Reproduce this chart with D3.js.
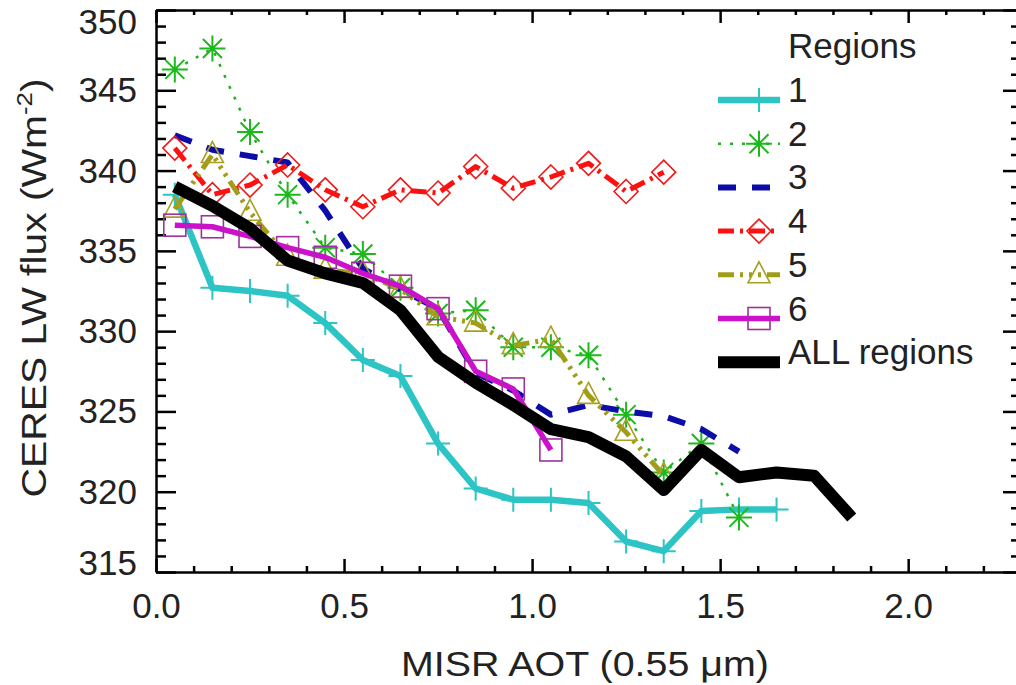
<!DOCTYPE html>
<html>
<head>
<meta charset="utf-8">
<script src="https://cdn.jsdelivr.net/npm/d3@7"></script>
<style>
  body { margin: 0; background: #fff; }
  svg { display: block; font-family: "Liberation Sans", Arial, sans-serif; }
</style>
</head>
<body>
<svg width="1016" height="685"></svg>
<script>
// AOT bin centres
var aot = [0.05, 0.15, 0.25, 0.35, 0.45, 0.55, 0.65, 0.75, 0.85, 0.95,
  1.05, 1.15, 1.25, 1.35, 1.45, 1.55, 1.65, 1.75, 1.85];

var region1 = [338.5, 332.7, 332.5, 332.2, 330.5, 328.2, 327.2, 323.0, 320.2, 319.5,
  319.5, 319.3, 316.9, 316.3, 318.8, 318.9, 318.9];
var region2 = [346.3, 347.6, 342.4, 338.5, 335.2, 334.8, 332.7, 331.1, 331.3, 329.0,
  329.0, 328.5, 324.8, 321.2, 323.0, 318.4];
var region3 = [342.2, 341.3, 340.9, 340.5, 337.5, 333.9, 332.6, 331.4, 327.4, 326.3,
  324.8, 325.4, 325.0, 324.7, 323.9, 322.5];
var region4 = [341.4, 338.5, 339.1, 340.35, 338.8, 337.75, 338.8, 338.6, 340.25, 338.9,
  339.6, 340.45, 338.7, 339.9];
var region5 = [337.6, 341.0, 337.4, 334.6, 333.8, 333.6, 332.6, 330.9, 330.5, 329.1,
  329.5, 326.0, 323.7, 321.0];
var region6 = [336.6, 336.5, 335.9, 335.2, 334.6, 333.6, 332.8, 331.4, 327.5, 326.4,
  322.6];
var allRegions = [339.0, 337.8, 336.4, 334.4, 333.6, 333.0, 331.3, 328.4, 326.8, 325.4,
  323.9, 323.4, 322.2, 320.1, 322.6, 320.9, 321.2, 321.0, 318.4];

var xMajor = [0.0, 0.5, 1.0, 1.5, 2.0];
var yMajor = [315, 320, 325, 330, 335, 340, 345, 350];
var legendLabels = ['1', '2', '3', '4', '5', '6', 'ALL regions'];

var series = [
  { values: region1, color: '#2cc4c4', dash: null, width: 6.5, marker: 'plus', mcolor: '#2cc4c4' },
  { values: region2, color: '#22b022', dash: '3,9', width: 2.5, marker: 'star', mcolor: '#1cb81c' },
  { values: region3, color: '#0c0ca8', dash: '18,16', width: 6, marker: null },
  { values: region4, color: '#ff1010', dash: '16,6,3,6', width: 5, marker: 'diamond', mcolor: '#f01818' },
  { values: region5, color: '#a09e18', dash: '16,6,3,6,3,6,3,6', width: 5, marker: 'triangle', mcolor: '#a8a020' },
  { values: region6, color: '#cc10cc', dash: null, width: 5.5, marker: 'square', mcolor: '#a030a0' },
  { values: allRegions, color: '#000000', dash: null, width: 12, marker: null }
];

var svg = d3.select('svg');

var x = d3.scaleLinear().domain([0, 2.3]).range([156, 1021]);
var y = d3.scaleLinear().domain([315, 350]).range([572, 10]);

var xMinor = d3.range(0, 2.31, 0.1).filter(function(v) {
  return Math.abs(v * 2 - Math.round(v * 2)) > 1e-6;
});
var yMinor = d3.range(315, 351, 1).filter(function(v) { return v % 5 !== 0; });

function styleAxis(g) {
  g.selectAll('path.domain').attr('stroke', '#000').attr('stroke-width', 2.5);
  g.selectAll('.tick line').attr('stroke', '#000').attr('stroke-width', 2.5);
  g.selectAll('text').attr('font-size', 35).attr('fill', '#222')
    .attr('font-family', '"Liberation Sans", Arial, sans-serif');
}

// bottom
svg.append('g').attr('transform', 'translate(0,572)')
  .call(d3.axisBottom(x).tickValues(xMajor).tickSizeInner(-13).tickSizeOuter(0)
    .tickPadding(21).tickFormat(d3.format('.1f')))
  .call(styleAxis);
svg.append('g').attr('transform', 'translate(0,572)')
  .call(d3.axisBottom(x).tickValues(xMinor).tickSize(-6).tickFormat(''))
  .call(styleAxis).select('path.domain').remove();
// top
svg.append('g').attr('transform', 'translate(0,10)')
  .call(d3.axisTop(x).tickValues(xMajor).tickSizeInner(-13).tickSizeOuter(0).tickFormat(''))
  .call(styleAxis);
svg.append('g').attr('transform', 'translate(0,10)')
  .call(d3.axisTop(x).tickValues(xMinor).tickSize(-5).tickFormat(''))
  .call(styleAxis).select('path.domain').remove();
// left
var leftAxis = svg.append('g').attr('transform', 'translate(156,0)')
  .call(d3.axisLeft(y).tickValues(yMajor).tickSizeInner(-20).tickSizeOuter(0)
    .tickPadding(19).tickFormat(d3.format('d')))
  .call(styleAxis);
leftAxis.selectAll('.tick text').attr('dy', function(d) {
  if (d === 350) return '0.68em';
  if (d === 315) return '0.07em';
  return '0.33em';
});
svg.append('g').attr('transform', 'translate(156,0)')
  .call(d3.axisLeft(y).tickValues(yMinor).tickSize(-10).tickFormat(''))
  .call(styleAxis).select('path.domain').remove();
// right
svg.append('g').attr('transform', 'translate(1021,0)')
  .call(d3.axisRight(y).tickValues(yMajor).tickSizeInner(-18).tickSizeOuter(0).tickFormat(''))
  .call(styleAxis);
svg.append('g').attr('transform', 'translate(1021,0)')
  .call(d3.axisRight(y).tickValues(yMinor).tickSize(-10).tickFormat(''))
  .call(styleAxis).select('path.domain').remove();

// axis titles
svg.append('text')
  .attr('x', 585).attr('y', 676)
  .attr('text-anchor', 'middle')
  .attr('font-size', 35).attr('fill', '#222')
  .attr('textLength', 368).attr('lengthAdjust', 'spacingAndGlyphs')
  .text('MISR AOT (0.55 \u03bcm)');

var yTitle = svg.append('text')
  .attr('transform', 'translate(46,288) rotate(-90)')
  .attr('text-anchor', 'middle')
  .attr('font-size', 35).attr('fill', '#222')
  .attr('textLength', 419).attr('lengthAdjust', 'spacingAndGlyphs');
yTitle.append('tspan').text('CERES LW flux (Wm');
yTitle.append('tspan').attr('font-size', 22).attr('dy', -14).text('-2');
yTitle.append('tspan').attr('dy', 14).text(')');

// markers
function drawMarker(g, type, color) {
  if (type === 'plus') {
    g.append('path').attr('d', 'M-12,0H12M0,-12V12')
      .attr('stroke', color).attr('stroke-width', 2).attr('fill', 'none');
  } else if (type === 'star') {
    g.append('path').attr('d', 'M-13,0H13M0,-13V13M-9.5,-9.5L9.5,9.5M-9.5,9.5L9.5,-9.5')
      .attr('stroke', color).attr('stroke-width', 2).attr('fill', 'none');
  } else if (type === 'diamond') {
    g.append('path').attr('d', 'M0,-12L12,0L0,12L-12,0Z')
      .attr('stroke', color).attr('stroke-width', 1.6).attr('fill', 'none');
  } else if (type === 'triangle') {
    g.append('path').attr('d', 'M0,-13L11,8L-11,8Z')
      .attr('stroke', color).attr('stroke-width', 1.6).attr('fill', 'none');
  } else if (type === 'square') {
    g.append('rect').attr('x', -11).attr('y', -11).attr('width', 22).attr('height', 22)
      .attr('stroke', color).attr('stroke-width', 1.6).attr('fill', 'none');
  }
}

var line = d3.line()
  .x(function(d, i) { return x(aot[i]); })
  .y(function(d) { return y(d); });

series.forEach(function(s) {
  svg.append('path')
    .attr('d', line(s.values))
    .attr('fill', 'none')
    .attr('stroke', s.color)
    .attr('stroke-width', s.width)
    .attr('stroke-dasharray', s.dash)
    .attr('stroke-linejoin', 'round');
  if (s.marker) {
    svg.append('g').selectAll('g')
      .data(s.values)
      .enter().append('g')
      .attr('transform', function(d, i) { return 'translate(' + x(aot[i]) + ',' + y(d) + ')'; })
      .each(function() { drawMarker(d3.select(this), s.marker, s.mcolor); });
  }
});

// legend
var legend = svg.append('g');
legend.append('text').attr('x', 788).attr('y', 58)
  .attr('font-size', 35).attr('fill', '#222').text('Regions');

series.forEach(function(s, i) {
  var ly = 100 + i * 43.7;
  legend.append('line')
    .attr('x1', 718).attr('x2', 780).attr('y1', ly).attr('y2', ly)
    .attr('stroke', s.color)
    .attr('stroke-width', s.width)
    .attr('stroke-dasharray', s.dash);
  if (s.marker) {
    var mg = legend.append('g').attr('transform', 'translate(759,' + ly + ')');
    drawMarker(mg, s.marker, s.mcolor);
  }
  legend.append('text')
    .attr('x', 788).attr('y', ly + 2)
    .attr('font-size', 35).attr('fill', '#222')
    .text(legendLabels[i]);
});
</script>
</body>
</html>
